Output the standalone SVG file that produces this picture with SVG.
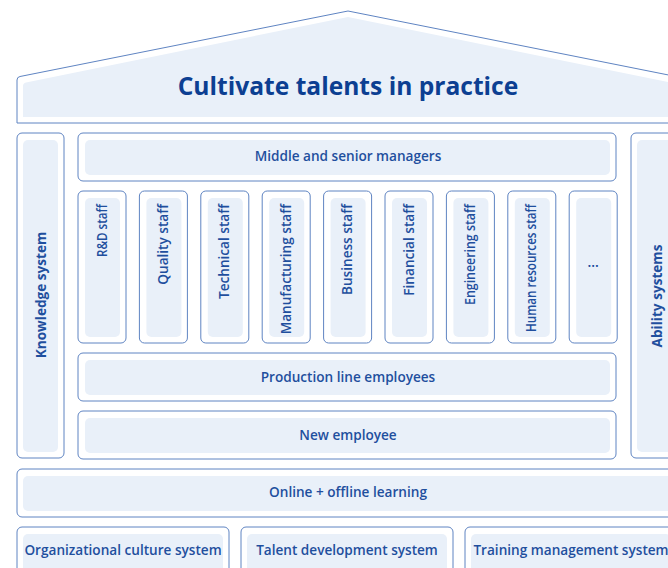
<svg xmlns="http://www.w3.org/2000/svg" width="668" height="568" viewBox="0 0 668 568">
<style>
.o{fill:#fff;stroke:#5f84c2;stroke-width:1}
.i{fill:#e9f0f9}
.t{font-family:"Open Sans","Noto Sans",sans-serif;font-size:13.6px;font-weight:600;fill:#1f4f9e}
.b{font-weight:700}
.c{text-anchor:middle}
.e{text-anchor:end}
</style>
<rect width="668" height="568" fill="#fff"/>
<g id="roof">
<path class="o" d="M17,123 L17,80 Q17,77 20,76.5 L348,11 L676,76.5 Q679,77 679,80 L679,123 Z"/>
<path class="i" d="M23,117 L23,86 Q23,83 26,82.5 L348,17 L670,82.5 Q673,83 673,86 L673,117 Z"/>
<text class="t b c" x="348" y="95" style="font-size:24.6px;fill:#0c3f92">Cultivate talents in practice</text>
</g>
<g id="knowledge">
<rect class="o" x="17" y="133" width="47" height="325" rx="5"/>
<rect class="i" x="23" y="140" width="35" height="312" rx="5"/>
<text class="t b c" transform="rotate(-90 45.5 295)" x="45.5" y="295">Knowledge system</text>
</g>
<g id="ability">
<rect class="o" x="631" y="133" width="47" height="325" rx="5"/>
<rect class="i" x="637" y="140" width="35" height="312" rx="5"/>
<text class="t b c" transform="rotate(-90 661.5 296)" x="661.5" y="296">Ability systems</text>
</g>
<g id="managers">
<rect class="o" x="78" y="133" width="538" height="48" rx="5"/>
<rect class="i" x="85" y="140" width="525" height="35" rx="5"/>
<text class="t c" x="348" y="161">Middle and senior managers</text>
</g>
<g id="rd"><rect class="o" x="78" y="191" width="48" height="152" rx="5"/><rect class="i" x="85" y="198" width="35" height="139" rx="5"/><text class="t e" transform="rotate(-90 106.5 204)" x="106.5" y="204" textLength="53" lengthAdjust="spacingAndGlyphs">R&amp;D staff</text></g>
<g id="quality"><rect class="o" x="139.4" y="191" width="48" height="152" rx="5"/><rect class="i" x="146.4" y="198" width="35" height="139" rx="5"/><text class="t e" transform="rotate(-90 168 204)" x="168" y="204">Quality staff</text></g>
<g id="technical"><rect class="o" x="200.8" y="191" width="48" height="152" rx="5"/><rect class="i" x="207.8" y="198" width="35" height="139" rx="5"/><text class="t e" transform="rotate(-90 229.4 204)" x="229.4" y="204">Technical staff</text></g>
<g id="manufacturing"><rect class="o" x="262.2" y="191" width="48" height="152" rx="5"/><rect class="i" x="269.2" y="198" width="35" height="139" rx="5"/><text class="t e" transform="rotate(-90 290.8 204)" x="290.8" y="204">Manufacturing staff</text></g>
<g id="business"><rect class="o" x="323.6" y="191" width="48" height="152" rx="5"/><rect class="i" x="330.6" y="198" width="35" height="139" rx="5"/><text class="t e" transform="rotate(-90 352.2 204)" x="352.2" y="204">Business staff</text></g>
<g id="financial"><rect class="o" x="385" y="191" width="48" height="152" rx="5"/><rect class="i" x="392" y="198" width="35" height="139" rx="5"/><text class="t e" transform="rotate(-90 413.6 204)" x="413.6" y="204">Financial staff</text></g>
<g id="engineering"><rect class="o" x="446.4" y="191" width="48" height="152" rx="5"/><rect class="i" x="453.4" y="198" width="35" height="139" rx="5"/><text class="t e" transform="rotate(-90 475 204)" x="475" y="204" textLength="101" lengthAdjust="spacingAndGlyphs">Engineering staff</text></g>
<g id="hr"><rect class="o" x="507.8" y="191" width="48" height="152" rx="5"/><rect class="i" x="514.8" y="198" width="35" height="139" rx="5"/><text class="t e" transform="rotate(-90 536.4 204)" x="536.4" y="204" textLength="128" lengthAdjust="spacingAndGlyphs">Human resources staff</text></g>
<g id="more"><rect class="o" x="569.2" y="191" width="48" height="152" rx="5"/><rect class="i" x="576.2" y="198" width="35" height="139" rx="5"/><text class="t c" x="593.2" y="267">...</text></g>
<g id="production">
<rect class="o" x="78" y="353" width="538" height="48" rx="5"/>
<rect class="i" x="85" y="360" width="525" height="35" rx="5"/>
<text class="t c" x="348" y="382">Production line employees</text>
</g>
<g id="new">
<rect class="o" x="78" y="411" width="538" height="48" rx="5"/>
<rect class="i" x="85" y="418" width="525" height="35" rx="5"/>
<text class="t c" x="348" y="440">New employee</text>
</g>
<g id="online">
<rect class="o" x="17" y="469" width="662" height="48" rx="5"/>
<rect class="i" x="23" y="476" width="650" height="35" rx="5"/>
<text class="t c" x="348" y="497">Online + offline learning</text>
</g>
<g id="culture">
<rect class="o" x="17" y="527" width="212" height="60" rx="5"/>
<rect class="i" x="23" y="534" width="200" height="47" rx="5"/>
<text class="t c" x="123" y="555">Organizational culture system</text>
</g>
<g id="talent">
<rect class="o" x="241" y="527" width="212" height="60" rx="5"/>
<rect class="i" x="247" y="534" width="200" height="47" rx="5"/>
<text class="t c" x="347" y="555">Talent development system</text>
</g>
<g id="training">
<rect class="o" x="465" y="527" width="212" height="60" rx="5"/>
<rect class="i" x="471" y="534" width="200" height="47" rx="5"/>
<text class="t c" x="571" y="555">Training management system</text>
</g>
<g id="connectors"/>
</svg>
